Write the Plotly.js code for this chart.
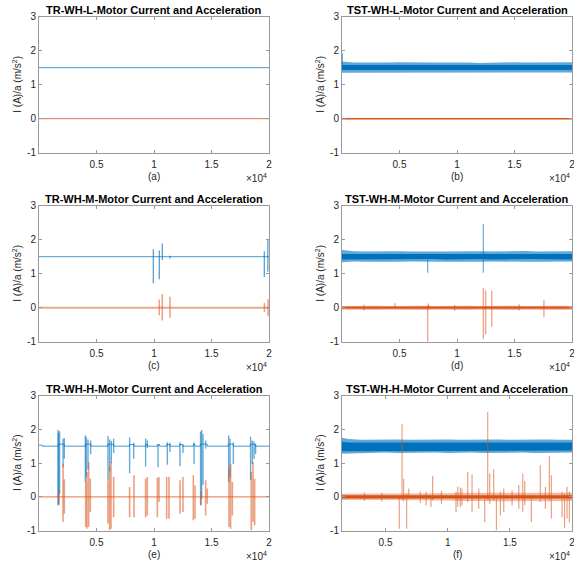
<!DOCTYPE html>
<html>
<head>
<meta charset="utf-8">
<script src="https://cdn.plot.ly/plotly-3.0.1.min.js"></script>
<style>
  html, body { margin: 0; padding: 0; background: #fff; }
  #chart { width: 574px; height: 565px; }
</style>
</head>
<body>
<div id="chart"></div>
<script>
// ---------------- data ----------------
// Sample index axis runs 0..20000 (shown as x 10^4).

// (a) TR-WH-L: steady current and acceleration
const aX = [0, 20000];
const aCurrent = [1.5, 1.5];
const aAccel = [0, 0];

// (b) TST-WH-L: noisy current band, near-flat acceleration
const bEnvX = [0, 1000, 2000, 3000, 4000, 5000, 6000, 7000, 8000, 9000, 10000,
               11000, 12000, 13000, 14000, 15000, 16000, 17000, 18000, 19000, 20000];
const bCurOuterHi = [1.68, 1.65, 1.65, 1.64, 1.65, 1.66, 1.65, 1.64, 1.65, 1.65, 1.66,
                     1.65, 1.64, 1.65, 1.65, 1.66, 1.65, 1.65, 1.64, 1.65, 1.66];
const bCurOuterLo = [1.35, 1.36, 1.36, 1.37, 1.36, 1.36, 1.35, 1.36, 1.36, 1.37, 1.36,
                     1.36, 1.35, 1.36, 1.37, 1.36, 1.36, 1.35, 1.36, 1.36, 1.36];
const bCurCoreHi = [1.58, 1.58, 1.57, 1.58, 1.58, 1.57, 1.58, 1.58, 1.58, 1.57, 1.58,
                    1.58, 1.57, 1.58, 1.58, 1.58, 1.57, 1.58, 1.58, 1.57, 1.58];
const bCurCoreLo = [1.43, 1.43, 1.42, 1.43, 1.43, 1.43, 1.42, 1.43, 1.43, 1.42, 1.43,
                    1.43, 1.43, 1.42, 1.43, 1.43, 1.43, 1.42, 1.43, 1.43, 1.43];
const bAccHi = [0.02, 0.02, 0.02, 0.02, 0.02, 0.02, 0.02, 0.02, 0.02, 0.02, 0.02,
                0.02, 0.02, 0.02, 0.02, 0.02, 0.02, 0.02, 0.02, 0.02, 0.02];
const bAccLo = [-0.02, -0.02, -0.02, -0.02, -0.02, -0.02, -0.02, -0.02, -0.02, -0.02, -0.02,
                -0.02, -0.02, -0.02, -0.02, -0.02, -0.02, -0.02, -0.02, -0.02, -0.02];
const bCurSpikeX = [40];
const bCurSpikeLo = [1.45];
const bCurSpikeHi = [1.92];

// (c) TR-WH-M: flat signals with a few transients
const cX = [0, 20000];
const cCurrent = [1.5, 1.5];
const cAccel = [0, 0];
const cCurSpikeX  = [9940, 10460, 10720, 11390, 19590, 19900];
const cCurSpikeLo = [0.72, 0.84, 1.40, 1.45, 0.90, 1.06];
const cCurSpikeHi = [1.72, 1.68, 1.89, 1.53, 1.66, 1.99];
const cAccSpikeX  = [10460, 10720, 11390, 19600, 19920];
const cAccSpikeLo = [-0.22, -0.38, -0.30, -0.13, -0.25];
const cAccSpikeHi = [0.24, 0.40, 0.32, 0.14, 0.25];

// (d) TST-WH-M: noisy bands with transients
const dEnvX = bEnvX;
const dCurOuterHi = [1.70, 1.66, 1.65, 1.66, 1.65, 1.66, 1.65, 1.66, 1.65, 1.65, 1.66,
                     1.65, 1.66, 1.65, 1.66, 1.65, 1.67, 1.65, 1.66, 1.65, 1.66];
const dCurOuterLo = [1.34, 1.36, 1.35, 1.35, 1.36, 1.35, 1.36, 1.35, 1.36, 1.35, 1.35,
                     1.36, 1.35, 1.36, 1.35, 1.36, 1.35, 1.35, 1.36, 1.35, 1.36];
const dCurCoreHi = [1.58, 1.58, 1.58, 1.57, 1.58, 1.58, 1.58, 1.57, 1.58, 1.58, 1.57,
                    1.58, 1.58, 1.58, 1.57, 1.58, 1.58, 1.58, 1.57, 1.58, 1.58];
const dCurCoreLo = [1.42, 1.43, 1.42, 1.43, 1.42, 1.43, 1.42, 1.43, 1.43, 1.42, 1.43,
                    1.42, 1.43, 1.42, 1.43, 1.42, 1.43, 1.43, 1.42, 1.43, 1.42];
const dAccOuterHi = [0.05, 0.06, 0.05, 0.06, 0.05, 0.06, 0.05, 0.06, 0.05, 0.06, 0.05,
                     0.06, 0.05, 0.06, 0.05, 0.06, 0.05, 0.06, 0.05, 0.06, 0.05];
const dAccOuterLo = [-0.05, -0.06, -0.05, -0.06, -0.05, -0.06, -0.05, -0.06, -0.05, -0.06, -0.05,
                     -0.06, -0.05, -0.06, -0.05, -0.06, -0.05, -0.06, -0.05, -0.06, -0.05];
const dAccCoreHi = [0.025, 0.025, 0.025, 0.025, 0.025, 0.025, 0.025, 0.025, 0.025, 0.025, 0.025,
                    0.025, 0.025, 0.025, 0.025, 0.025, 0.025, 0.025, 0.025, 0.025, 0.025];
const dAccCoreLo = [-0.025, -0.025, -0.025, -0.025, -0.025, -0.025, -0.025, -0.025, -0.025, -0.025, -0.025,
                    -0.025, -0.025, -0.025, -0.025, -0.025, -0.025, -0.025, -0.025, -0.025, -0.025];
const dCurSpikeX  = [7450, 12290];
const dCurSpikeLo = [1.03, 1.03];
const dCurSpikeHi = [1.42, 2.46];
const dAccSpikeX  = [1900, 4600, 7450, 7520, 9800, 12290, 12490, 13020, 15400, 17560];
const dAccSpikeLo = [-0.08, -0.02, -1.00, -0.05, -0.09, -0.93, -0.78, -0.56, -0.08, -0.27];
const dAccSpikeHi = [0.09, 0.13, 0.08, 0.12, 0.08, 0.57, 0.50, 0.50, 0.10, 0.22];

// (e) TR-WH-H: current baseline with raised steps during bursts
const eCurStepX = [0, 300, 1680, 2200, 4030, 4520, 6000, 6490, 7880, 8250, 9270, 9420,
                   10300, 10480, 11100, 11380, 12230, 12520, 13420, 13560, 14030, 14620,
                   16460, 16900, 18380, 18830, 20000];
const eCurStepY = [1.53, 1.5, 1.56, 1.5, 1.56, 1.5, 1.56, 1.5, 1.55, 1.5, 1.55, 1.5,
                   1.55, 1.5, 1.55, 1.5, 1.55, 1.5, 1.55, 1.5, 1.56, 1.5,
                   1.56, 1.5, 1.56, 1.5, 1.5];
const eAccel = [0, 0];
const eCurSpikeX  = [1650, 1700, 1790, 2090, 2200, 4030, 4110, 4260, 4490, 6000, 6140, 6290, 6490,
                     7880, 8230, 9270, 9420, 10350, 11160, 11390, 12260, 12520, 13480,
                     14050, 14140, 14260, 14490, 16490, 16610, 16900, 18400, 18550, 18700, 18830];
const eCurSpikeLo = [-0.25, -0.20, 0.09, 0.88, 1.13, 0.44, 0.58, 0.80, 1.26, 0.50, 0.75, 1.00, 1.30,
                     0.70, 1.13, 0.90, 1.45, 0.88, 0.95, 1.33, 0.91, 1.30, 0.97,
                     -0.25, -0.06, 0.36, 1.43, 0.44, 0.58, 0.97, 0.50, 0.97, 1.13, 1.27];
const eCurSpikeHi = [1.99, 1.90, 1.94, 1.72, 1.74, 1.82, 1.77, 1.70, 1.67, 1.80, 1.70, 1.66, 1.72,
                     1.76, 1.60, 1.73, 1.67, 1.56, 1.62, 1.60, 1.62, 1.54, 1.62,
                     1.93, 1.98, 1.86, 1.67, 1.82, 1.72, 1.62, 1.78, 1.67, 1.64, 1.56];
const eAccSpikeX  = [1740, 2090, 2200, 4060, 4170, 4320, 4460, 6000, 6140, 6260, 6490,
                     7880, 8260, 9270, 9420, 10290, 10430, 11100, 11300, 12260, 12520,
                     13420, 13570, 14110, 14490, 14630, 16520, 16660, 16810, 18460, 18610, 18750];
const eAccSpikeLo = [-0.25, -0.74, -0.50, -0.89, -0.94, -0.89, -0.45, -0.79, -0.99, -0.94, -0.60,
                     -0.60, -0.60, -0.60, -0.55, -0.60, -0.15, -0.65, -0.65, -0.50, -0.45,
                     -0.69, -0.65, -0.25, -0.55, -0.20, -0.89, -0.94, -0.55, -0.99, -0.74, -0.84];
const eAccSpikeHi = [0.20, 0.98, 0.52, 0.44, 0.74, 1.03, 0.54, 0.49, 0.88, 1.03, 0.59,
                     0.29, 0.64, 0.54, 0.59, 0.57, 0.59, 0.59, 0.59, 0.49, 0.59,
                     0.64, 0.34, 0.15, 0.49, 0.25, 0.83, 0.98, 0.44, 0.74, 1.03, 0.54];

// (f) TST-WH-H: noisy current band, acceleration with many transients
const fEnvX = [1500, 2000, 3000, 4000, 5000, 6000, 7000, 8000, 9000, 10000,
               11000, 12000, 13000, 14000, 15000, 16000, 17000, 18000, 19000, 20000];
const fCurOuterHi = [1.75, 1.71, 1.69, 1.70, 1.69, 1.70, 1.69, 1.70, 1.69, 1.70,
                     1.69, 1.70, 1.69, 1.70, 1.69, 1.70, 1.69, 1.70, 1.69, 1.69];
const fCurOuterLo = [1.28, 1.30, 1.31, 1.30, 1.31, 1.30, 1.31, 1.30, 1.31, 1.30,
                     1.30, 1.31, 1.30, 1.31, 1.30, 1.31, 1.30, 1.31, 1.30, 1.31];
const fCurCoreHi = [1.63, 1.61, 1.61, 1.61, 1.61, 1.61, 1.61, 1.61, 1.61, 1.61,
                    1.61, 1.61, 1.61, 1.61, 1.61, 1.61, 1.61, 1.61, 1.61, 1.61];
const fCurCoreLo = [1.35, 1.37, 1.37, 1.37, 1.37, 1.37, 1.37, 1.37, 1.37, 1.37,
                    1.37, 1.37, 1.37, 1.37, 1.37, 1.37, 1.37, 1.37, 1.37, 1.37];
const fAccOuterHi = [0.09, 0.09, 0.09, 0.09, 0.09, 0.09, 0.10, 0.09, 0.10, 0.11,
                     0.12, 0.12, 0.13, 0.12, 0.12, 0.13, 0.12, 0.13, 0.12, 0.12];
const fAccOuterLo = [-0.09, -0.09, -0.09, -0.09, -0.09, -0.09, -0.10, -0.09, -0.10, -0.11,
                     -0.12, -0.13, -0.12, -0.13, -0.12, -0.13, -0.12, -0.13, -0.13, -0.12];
const fAccCoreHi = [0.05, 0.05, 0.05, 0.05, 0.05, 0.05, 0.05, 0.05, 0.05, 0.05,
                    0.05, 0.05, 0.05, 0.05, 0.05, 0.05, 0.05, 0.05, 0.05, 0.05];
const fAccCoreLo = [-0.05, -0.05, -0.05, -0.05, -0.05, -0.05, -0.05, -0.05, -0.05, -0.05,
                    -0.05, -0.05, -0.05, -0.05, -0.05, -0.05, -0.05, -0.05, -0.05, -0.05];
const fAccSpikeX  = [3300, 4700, 6110, 6330, 6460, 6700, 6870, 7800, 8260, 8660, 8790, 9500,
                     10670, 10810, 11020, 11150, 11610, 11960, 12500, 12980, 13220, 13380,
                     13700, 13920, 14240, 14510, 15180, 15720, 16040, 16200, 16730, 17450,
                     17860, 18180, 18340, 19200, 19400, 19600, 19790];
const fAccSpikeLo = [-0.12, -0.14, -0.94, -0.10, -0.13, -0.94, -0.05, -0.18, -0.25, -0.30, -0.10, -0.20,
                     -0.45, -0.29, -0.30, -0.25, -0.15, -0.45, -0.35, -0.74, -0.10, -0.20,
                     -0.10, -0.99, -0.55, -0.45, -0.25, -0.35, -0.45, -0.25, -0.74, -0.15,
                     -0.35, -0.10, -0.64, -0.60, -0.93, -0.64, -0.76];
const fAccSpikeHi = [0.14, 0.12, 0.02, 2.15, 0.54, 0.10, 0.25, 0.16, 0.15, -0.05, 0.62, 0.18,
                     0.15, 0.30, 0.28, 0.25, 0.74, 0.67, 0.25, -0.05, 2.51, 0.69,
                     0.82, -0.05, 0.15, 0.25, 0.20, 0.35, 0.69, 0.47, 0.05, 0.94,
                     0.30, 1.22, 0.64, 0.15, 0.10, 0.30, 0.15];

// Panel labels
const panelTitles = [
  'TR-WH-L-Motor Current and Acceleration', 'TST-WH-L-Motor Current and Acceleration',
  'TR-WH-M-Motor Current and Acceleration', 'TST-WH-M-Motor Current and Acceleration',
  'TR-WH-H-Motor Current and Acceleration', 'TST-WH-H-Motor Current and Acceleration'
];
const panelTags = ['(a)', '(b)', '(c)', '(d)', '(e)', '(f)'];
const xTickVals = [5000, 10000, 15000, 20000];
const xTickText = ['0.5', '1', '1.5', '2'];
const yTickVals = [-1, 0, 1, 2, 3];
const yTickText = ['-1', '0', '1', '2', '3'];
const yLabel = 'I (A)/a (m/s<sup>2</sup>)';

// ---------------- styling ----------------
const BLUE = '#0072BD';
const BLUE_THIN = 'rgba(0,114,189,0.72)';
const BLUE_LIGHT = 'rgba(0,114,189,0.6)';
const ORANGE = '#D95319';
const ORANGE_THIN = 'rgba(217,83,25,0.8)';
const ORANGE_LIGHT = 'rgba(217,83,25,0.4)';

function ax(n) { return { xaxis: 'x' + (n === 1 ? '' : n), yaxis: 'y' + (n === 1 ? '' : n) }; }

function line(n, x, y, color, width, shape) {
  return Object.assign({
    type: 'scatter', mode: 'lines', x: x, y: y,
    line: { color: color, width: width, shape: shape || 'linear' },
    hoverinfo: 'skip', showlegend: false
  }, ax(n));
}

function band(n, x, lo, hi, color) {
  const px = x.concat(x.slice().reverse());
  const py = hi.concat(lo.slice().reverse());
  return Object.assign({
    type: 'scatter', mode: 'lines', x: px, y: py, fill: 'toself',
    fillcolor: color, line: { width: 0, color: color },
    hoverinfo: 'skip', showlegend: false
  }, ax(n));
}

function spikes(n, xs, lo, hi, color, width) {
  const sx = [], sy = [];
  xs.forEach(function (v, i) { sx.push(v, v, null); sy.push(lo[i], hi[i], null); });
  return line(n, sx, sy, color, width);
}

const traces = [
  // (a)
  line(1, aX, aCurrent, BLUE_THIN, 1),
  line(1, aX, aAccel, ORANGE_THIN, 1),
  // (b)
  band(2, bEnvX, bCurOuterLo, bCurOuterHi, 'rgba(0,114,189,0.62)'),
  band(2, bEnvX, bCurCoreLo, bCurCoreHi, BLUE),
  spikes(2, bCurSpikeX, bCurSpikeLo, bCurSpikeHi, BLUE_LIGHT, 1),
  band(2, bEnvX, bAccLo, bAccHi, ORANGE),
  // (c)
  line(3, cX, cCurrent, BLUE_THIN, 1),
  spikes(3, cCurSpikeX, cCurSpikeLo, cCurSpikeHi, BLUE_THIN, 1.2),
  line(3, cX, cAccel, 'rgba(217,83,25,0.5)', 2),
  spikes(3, cAccSpikeX, cAccSpikeLo, cAccSpikeHi, 'rgba(217,83,25,0.55)', 1.5),
  // (d)
  band(4, dEnvX, dCurOuterLo, dCurOuterHi, 'rgba(0,114,189,0.62)'),
  band(4, dEnvX, dCurCoreLo, dCurCoreHi, BLUE),
  spikes(4, dCurSpikeX, dCurSpikeLo, dCurSpikeHi, BLUE_LIGHT, 1.2),
  band(4, dEnvX, dAccOuterLo, dAccOuterHi, 'rgba(217,83,25,0.55)'),
  band(4, dEnvX, dAccCoreLo, dAccCoreHi, ORANGE),
  spikes(4, dAccSpikeX, dAccSpikeLo, dAccSpikeHi, 'rgba(217,83,25,0.5)', 1.4),
  // (e)
  line(5, eCurStepX, eCurStepY, BLUE_THIN, 1, 'hv'),
  spikes(5, eCurSpikeX, eCurSpikeLo, eCurSpikeHi, BLUE_LIGHT, 1.4),
  line(5, aX, eAccel, ORANGE_THIN, 1),
  spikes(5, eAccSpikeX, eAccSpikeLo, eAccSpikeHi, 'rgba(217,83,25,0.55)', 1.6),
  // (f)
  band(6, fEnvX, fCurOuterLo, fCurOuterHi, 'rgba(0,114,189,0.62)'),
  band(6, fEnvX, fCurCoreLo, fCurCoreHi, BLUE),
  band(6, fEnvX, fAccOuterLo, fAccOuterHi, ORANGE_LIGHT),
  spikes(6, fAccSpikeX, fAccSpikeLo, fAccSpikeHi, 'rgba(217,83,25,0.55)', 1.2),
  band(6, fEnvX, fAccCoreLo, fAccCoreHi, ORANGE)
];

// ---------------- layout ----------------
const W = 574, H = 565;
const colPx = [[39, 269], [342, 572]];
const rowPx = [[16.7, 152.7], [205.7, 341.7], [395.5, 530.7]];
const FONT = 'Liberation Sans, Arial, Helvetica, sans-serif';
const AXIS_GREY = '#9a9a9a';

const layout = {
  width: W, height: H,
  margin: { l: 0, r: 0, t: 0, b: 0 },
  paper_bgcolor: '#fff', plot_bgcolor: '#fff',
  showlegend: false,
  font: { family: FONT, size: 10, color: '#262626' },
  annotations: []
};

for (let i = 0; i < 6; i++) {
  const n = i + 1, c = i % 2, r = Math.floor(i / 2);
  const suffix = n === 1 ? '' : String(n);
  const x0 = colPx[c][0], x1 = colPx[c][1];
  const top = rowPx[r][0], bot = rowPx[r][1];
  const common = {
    showline: true, linecolor: AXIS_GREY, linewidth: 1, mirror: 'ticks',
    ticks: 'inside', ticklen: 3, tickwidth: 1, tickcolor: AXIS_GREY,
    showgrid: false, zeroline: false, fixedrange: true,
    ticklabeloverflow: 'allow',
    tickfont: { family: FONT, size: 10, color: '#262626' }
  };
  layout['xaxis' + suffix] = Object.assign({}, common, {
    domain: [x0 / W, x1 / W], anchor: 'y' + suffix,
    range: n === 6 ? [1500, 20000] : [0, 20000],
    ticklabelstandoff: 2,
    tickmode: 'array', tickvals: xTickVals, ticktext: xTickText
  });
  layout['yaxis' + suffix] = Object.assign({}, common, {
    domain: [1 - bot / H, 1 - top / H], anchor: 'x' + suffix,
    range: [-1, 3],
    tickmode: 'array', tickvals: yTickVals, ticktext: yTickText
  });

  const cx = (x0 + x1) / 2 / W;
  layout.annotations.push(
    { text: '<b>' + panelTitles[i] + '</b>', xref: 'paper', yref: 'paper',
      x: cx, y: 1 - (top - 7) / H, xanchor: 'center', yanchor: 'middle', showarrow: false,
      font: { family: FONT, size: 11, color: '#000' } },
    { text: panelTags[i], xref: 'paper', yref: 'paper',
      x: cx, y: 1 - (bot + 24) / H, xanchor: 'center', yanchor: 'middle', showarrow: false,
      font: { family: FONT, size: 10, color: '#262626' } },
    { text: '\u00d710<sup>4</sup>', xref: 'paper', yref: 'paper',
      x: x1 / W, y: 1 - (bot + 25) / H, xanchor: 'right', yanchor: 'middle', showarrow: false,
      font: { family: FONT, size: 10, color: '#262626' } },
    { text: yLabel, xref: 'paper', yref: 'paper', textangle: -90,
      x: (x0 - 22) / W, y: 1 - (top + bot) / 2 / H, xanchor: 'center', yanchor: 'middle',
      showarrow: false, font: { family: FONT, size: 10, color: '#262626' } }
  );
}

Plotly.newPlot('chart', traces, layout, { staticPlot: true, displayModeBar: false });
</script>
</body>
</html>
